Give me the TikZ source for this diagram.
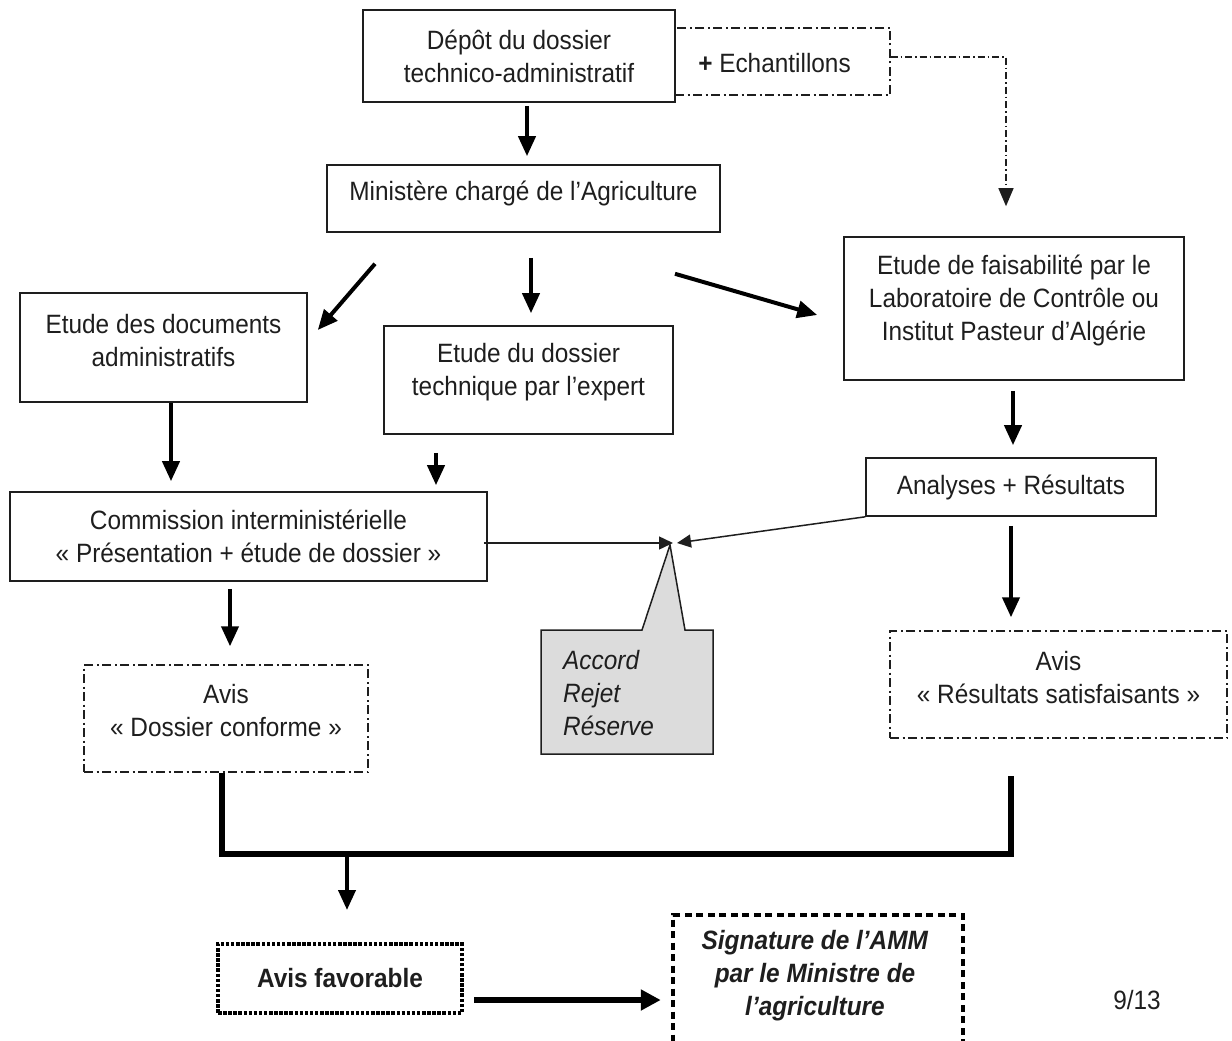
\documentclass[tikz,border=0pt]{standalone}
\usepackage{fontspec}
\setmainfont[FakeStretch=0.92]{Liberation Sans}
\usetikzlibrary{arrows.meta}
\definecolor{calloutgray}{HTML}{DCDCDC}
\definecolor{ink}{HTML}{1E1E1E}

\begin{document}
\begin{tikzpicture}[x=1pt,y=-1pt,
  every node/.style={font=\fontsize{26.5}{33}\selectfont, text=ink},
  box/.style={draw=ink, line width=1.6pt, inner sep=0pt},
  dashdotbox/.style={draw=ink, line width=1.4pt, inner sep=0pt,
    dash pattern=on 9pt off 3.5pt on 2pt off 3.5pt},
  dottedbox/.style={draw=black, line width=4pt, inner sep=0pt,
    dash pattern=on 3.5pt off 1.6pt},
  dashedbox/.style={draw=black, line width=4.5pt, inner sep=0pt,
    dash pattern=on 7pt off 4.5pt},
  lbl/.style={align=center, inner sep=0pt},
  bigarrow/.style={draw=black, line width=4pt, -{Triangle[length=20pt,width=17pt]}},
  heavyarrow/.style={draw=black, line width=6pt, -{Triangle[length=20pt,width=20pt]}},
  thinarrow/.style={draw=ink, line width=1.5pt, -{Triangle[length=14pt,width=13pt]}},
  dashdotarrow/.style={draw=ink, line width=1.3pt,
    dash pattern=on 7pt off 3pt on 1.5pt off 3pt, -{Triangle[length=18pt,width=15pt]}},
  bracket/.style={draw=black, line width=6pt, line join=miter}]

\useasboundingbox (0,0) rectangle (1232,1041);

% ---- boxes ----
\node[box, minimum width=312pt, minimum height=92pt] (depot) at (519,56) {};
\node[lbl] (depot-t) at (depot.center) {Dépôt du dossier\\technico-administratif};

\node[dashdotbox, minimum width=215pt, minimum height=67pt] (echant) at (782.5,61.5) {};
\node[lbl] (echant-t) at ([xshift=-8pt,yshift=-2pt]echant.center) {\textbf{+} Echantillons};

\node[box, minimum width=393pt, minimum height=67pt] (minist) at (523.5,198.5) {};
\node[lbl] (minist-t) at ([yshift=5pt]minist.center) {Ministère chargé de l’Agriculture};

\node[box, minimum width=340pt, minimum height=143pt] (faisab) at (1014,308.5) {};
\node[lbl] (faisab-t) at ([yshift=8pt]faisab.center) {Etude de faisabilité par le\\Laboratoire de Contrôle ou\\Institut Pasteur d’Algérie};

\node[box, minimum width=287pt, minimum height=109pt] (docs) at (163.5,347.5) {};
\node[lbl] (docs-t) at ([yshift=7pt]docs.center) {Etude des documents\\administratifs};

\node[box, minimum width=289pt, minimum height=108pt] (tech) at (528.5,380) {};
\node[lbl] (tech-t) at ([yshift=8pt]tech.center) {Etude du dossier\\technique par l’expert};

\node[box, minimum width=290pt, minimum height=58pt] (analyses) at (1011,487) {};
\node[lbl] (analyses-t) at (analyses.center) {Analyses + Résultats};

\node[box, minimum width=477pt, minimum height=89pt] (commission) at (248.5,536.5) {};
\node[lbl] (commission-t) at (commission.center) {Commission interministérielle\\« Présentation + étude de dossier »};

\node[dashdotbox, minimum width=284pt, minimum height=107pt] (avisC) at (226,718.5) {};
\node[lbl] (avisC-t) at ([yshift=7.5pt]avisC.center) {Avis\\« Dossier conforme »};

\node[dashdotbox, minimum width=337pt, minimum height=107pt] (avisR) at (1058.5,684.5) {};
\node[lbl] (avisR-t) at ([yshift=7pt]avisR.center) {Avis\\« Résultats satisfaisants »};

\node[dottedbox, minimum width=244pt, minimum height=69pt] (favor) at (340,978.5) {};
\node[lbl] (favor-t) at (favor.center) {\textbf{Avis favorable}};

\node[dashedbox, minimum width=290pt, minimum height=140pt] (signat) at (818,985) {};
\node[lbl] (signat-t) at ([xshift=-3pt,yshift=9pt]signat.center) {\textbf{\itshape Signature de l’AMM}\\\textbf{\itshape par le Ministre de}\\\textbf{\itshape l’agriculture}};

% ---- callout ----
\coordinate (ptip) at (670,545);
\draw[draw=ink, fill=calloutgray, line width=1.5pt, line join=miter]
  (541,630) -- (642,630) -- (ptip) -- (685,630) -- (713,630)
  -- (713,754) -- (541,754) -- cycle;
\node[align=left, inner sep=0pt, anchor=west] (callout) at (563,693)
  {\itshape Accord\\\itshape Rejet\\\itshape Réserve};
\coordinate (ctip) at (675,543);

% ---- page number ----
\node[inner sep=0pt] (pagenum) at (1137,1000) {9/13};

% ---- connectors ----
\draw[bigarrow] ([xshift=8pt,yshift=-3pt]depot.south) -- ([xshift=3.5pt,yshift=8pt]minist.north);
\draw[dashdotarrow] ([yshift=4.5pt]echant.east) -| ([xshift=-8pt,yshift=30pt]faisab.north);

\draw[bigarrow] ([xshift=-148.5pt,yshift=-31pt]minist.south) -- ([xshift=10pt,yshift=17.5pt]docs.east);
\draw[bigarrow] ([xshift=7.5pt,yshift=-25pt]minist.south) -- ([xshift=2.5pt,yshift=12pt]tech.north);
\draw[bigarrow] ([xshift=151.5pt,yshift=-41pt]minist.south) -- ([xshift=-26pt,yshift=-6.5pt]faisab.west);

\draw[bigarrow] ([xshift=7.5pt]docs.south) -- ([xshift=-77.5pt,yshift=10pt]commission.north);
\draw[bigarrow] ([xshift=-92.5pt,yshift=-18pt]tech.south) -- ([xshift=187.5pt,yshift=6pt]commission.north);
\draw[bigarrow] ([xshift=-1pt,yshift=-10pt]faisab.south) -- ([xshift=2pt,yshift=12pt]analyses.north);

\draw[thinarrow] ([xshift=-4pt,yshift=-6.5pt]commission.east) -- ([xshift=-2pt]ctip);
\draw[thinarrow] (analyses.south west) -- ([xshift=2pt]ctip);

\draw[bigarrow] ([xshift=-18.5pt,yshift=-7pt]commission.south) -- ([xshift=4pt,yshift=18pt]avisC.north);
\draw[bigarrow] ([yshift=-9pt]analyses.south) -- ([xshift=-47.5pt,yshift=13pt]avisR.north);

\draw[bracket] ([xshift=-4pt]avisC.south) -- ++(0,81) -| ([xshift=-47.5pt,yshift=-37pt]avisR.south);
\coordinate (merge) at (347,856);
\draw[bigarrow] (merge) -- ([xshift=7pt,yshift=32pt]favor.north);

\draw[heavyarrow] ([xshift=10pt,yshift=-21.5pt]favor.east) -- ([xshift=-10pt,yshift=-15pt]signat.west);

\end{tikzpicture}
\end{document}
